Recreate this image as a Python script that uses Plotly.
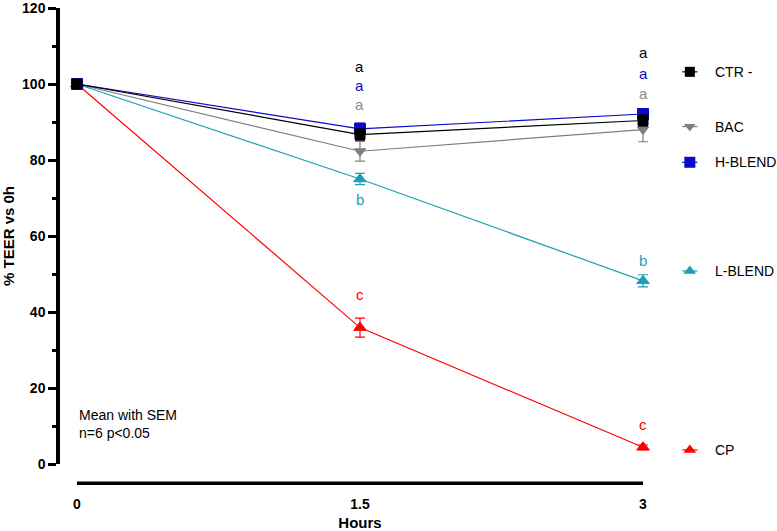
import plotly.graph_objects as go

hours = [0, 1.5, 3]
x_tick_labels = ["0", "1.5", "3"]
y_ticks = [0, 20, 40, 60, 80, 100, 120]

series_names = ["CTR -", "BAC", "H-BLEND", "L-BLEND", "CP"]
ctr = [100, 86.7, 90.4]
bac = [100, 82.3, 88.0]
hblend = [100, 88.2, 92.1]
lblend = [100, 75.0, 48.2]
cp = [100, 35.9, 4.4]

ctr_sem = [0, 1.5, 1.5]
bac_sem = [0, 2.6, 3.2]
hblend_sem = [0, 1.5, 1.0]
lblend_sem = [0, 1.5, 1.6]
cp_sem = [0, 2.5, 0.6]

colors = ["#000000", "#7f7f7f", "#0a0ac8", "#1f9fb4", "#ff0000"]
letter_colors = ["#000000", "#0a0ac8", "#8c8c8c", "#1f9fb4", "#ff0000"]
symbols = ["square", "triangle-down", "square", "triangle-up", "triangle-up"]
sizes = [10, 10, 11, 11, 11]

# significance letters: (x, y, text, colour index)
letters_x = [1.5, 1.5, 1.5, 1.5, 1.5, 3, 3, 3, 3, 3]
letters_y = [104.5, 99.6, 94.6, 69.6, 44.7, 108.3, 102.8, 97.6, 53.6, 10.4]
letters_txt = ["a", "a", "a", "b", "c", "a", "a", "a", "b", "c"]
letters_col = [0, 1, 2, 3, 4, 0, 1, 2, 3, 4]

# positions of the legend entries (in y-data units)
legend_y = [103.2, 88.8, 79.4, 50.8, 3.7]

values = [ctr, bac, hblend, lblend, cp]
sems = [ctr_sem, bac_sem, hblend_sem, lblend_sem, cp_sem]

fig = go.Figure()
draw_order = [1, 3, 4, 2, 0]
for i in draw_order:
    fig.add_trace(go.Scatter(
        x=hours, y=values[i], name=series_names[i], mode="lines+markers",
        line=dict(color=colors[i], width=1.2),
        marker=dict(symbol=symbols[i], size=sizes[i], color=colors[i],
                    line=dict(color=colors[i], width=1)),
        error_y=dict(type="data", array=sems[i], color=colors[i], thickness=1.2, width=5),
        cliponaxis=False, showlegend=False,
    ))

# legend swatches
for i in range(5):
    fig.add_trace(go.Scatter(
        x=[0.19, 0.32], y=[legend_y[i]] * 2, xaxis="x2", yaxis="y", mode="lines",
        line=dict(color=colors[i], width=1.2), showlegend=False, cliponaxis=False))
    fig.add_trace(go.Scatter(
        x=[0.255], y=[legend_y[i]], xaxis="x2", yaxis="y", mode="markers",
        marker=dict(symbol=symbols[i], size=sizes[i], color=colors[i]),
        showlegend=False, cliponaxis=False))
    fig.add_annotation(x=0.45, y=legend_y[i], xref="x2", yref="y", text=series_names[i],
                       showarrow=False, xanchor="left", yanchor="middle",
                       font=dict(family="Liberation Sans, Arial", size=14, color="#000"))

for xx, yy, tt, cc in zip(letters_x, letters_y, letters_txt, letters_col):
    fig.add_annotation(x=xx, y=yy, text=tt, showarrow=False, xanchor="center", yanchor="middle",
                       font=dict(family="Liberation Sans, Arial", size=15, color=letter_colors[cc]))

fig.add_annotation(x=0, y=10.5, xref="x", yref="y", text="Mean with SEM<br>n=6 p<0.05",
                   showarrow=False, xanchor="left", yanchor="middle", align="left",
                   font=dict(family="Liberation Sans, Arial", size=14, color="#000"))

# detached x axis line
fig.add_shape(type="line", xref="x", yref="paper", x0=hours[0], x1=hours[-1],
              y0=-0.042, y1=-0.042, line=dict(color="#000", width=3.5))

fig.update_layout(
    width=777, height=531,
    margin=dict(l=60, r=0, t=8, b=67, autoexpand=False),
    plot_bgcolor="white", paper_bgcolor="white",
    xaxis=dict(domain=[0, 0.8368], range=[-0.09, 3.09], tickvals=hours, ticktext=x_tick_labels,
               showline=False, showgrid=False, zeroline=False, ticks="", automargin=False,
               ticklabelstandoff=30,
               tickfont=dict(family="Liberation Sans Narrow, Arial Narrow, Liberation Sans", size=14, color="#000",
                             weight="bold"),
               title=dict(text="<b>Hours</b>", standoff=6,
                          font=dict(family="Liberation Sans Narrow, Arial Narrow, Liberation Sans", size=15, color="#000"))),
    xaxis2=dict(domain=[0.8368, 1], range=[0, 1], visible=False, anchor="y"),
    yaxis=dict(range=[0, 120], tickvals=y_ticks, showgrid=False, zeroline=False, automargin=False,
               showline=True, linecolor="#000", linewidth=3.5, ticklabeloverflow="allow",
               ticks="outside", ticklen=8, tickwidth=2.5, tickcolor="#000",
               minor=dict(tickvals=[10, 30, 50, 70, 90, 110], ticks="outside", ticklen=4,
                          tickwidth=2.5, tickcolor="#000"),
               tickfont=dict(family="Liberation Sans, Arial", size=14, color="#000", weight="bold"),
               title=dict(text="<b>% TEER vs 0h</b>", standoff=12,
                          font=dict(family="Liberation Sans, Arial", size=15, color="#000"))),
)

fig.write_html("out.html", config={"displayModeBar": False},
               post_script="document.body.style.margin='0';document.body.style.overflow='hidden';")
